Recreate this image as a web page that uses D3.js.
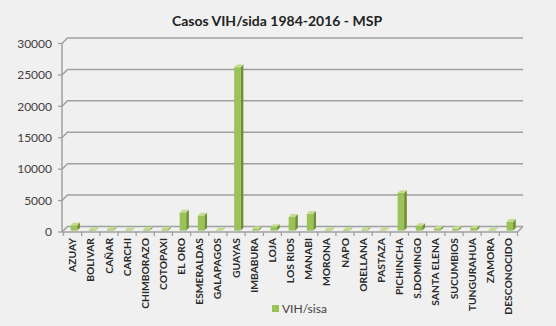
<!DOCTYPE html>
<html><head><meta charset="utf-8">
<script src="https://cdn.jsdelivr.net/npm/d3@7"></script>
<style>html,body{margin:0;padding:0;background:#f0f0f0;}svg{display:block;}</style>
</head><body>
<script>
const categories = ["AZUAY","BOLIVAR","CAÑAR","CARCHI","CHIMBORAZO","COTOPAXI","EL ORO","ESMERALDAS","GALAPAGOS","GUAYAS","IMBABURA","LOJA","LOS RIOS","MANABI","MORONA","NAPO","ORELLANA","PASTAZA","PICHINCHA","S.DOMINGO","SANTA ELENA","SUCUMBIOS","TUNGURAHUA","ZAMORA","DESCONOCIDO"];
const values = [850,100,200,80,200,200,2900,2400,50,26000,250,600,2200,2700,100,100,150,50,6000,750,350,300,400,80,1400];
const yTicks = [0,5000,10000,15000,20000,25000,30000];
const seriesName = "VIH/sisa";
const title = "Casos VIH/sida 1984-2016 - MSP";

const W=556,H=326;
const svg=d3.select("body").append("svg").attr("width",W).attr("height",H);
svg.append("rect").attr("width",W).attr("height",H).attr("fill","#f0f0f0");

const x=d3.scaleBand().domain(categories).range([63.5,517.5]);
const y=d3.scaleLinear().domain([0,30000]).range([232,43.5]);
const D=5.5; // depth offset
const gridC="#a0a0a0";
const x0=62, xR=x.range()[1];

// gridlines on back wall
svg.append("g").selectAll("path").data(yTicks).join("path")
  .attr("d",v=>`M${x0},${y(v)}L${x0+D},${y(v)-D}L${xR+D},${y(v)-D}`)
  .attr("fill","none").attr("stroke",gridC).attr("stroke-width",1.5);
// floor front edge
svg.append("path").attr("d",`M${x0},${y(0)}L${xR},${y(0)}L${xR+D},${y(0)-D}`)
  .attr("fill","none").attr("stroke",gridC).attr("stroke-width",1.5);
// vertical axis
svg.append("path").attr("d",`M${x0},${y(0)}L${x0},${y(30000)}`).attr("stroke",gridC).attr("stroke-width",1.5);
// y ticks
svg.append("g").selectAll("line").data(yTicks).join("line")
  .attr("x1",x0-4).attr("x2",x0).attr("y1",v=>y(v)).attr("y2",v=>y(v))
  .attr("stroke",gridC).attr("stroke-width",1.3);
svg.append("g").selectAll("text").data(yTicks).join("text")
  .attr("x",52).attr("y",v=>y(v)).attr("dy","0.36em").attr("text-anchor","end")
  .attr("font-family","Lato").attr("font-size",12).attr("fill","#404040").text(v=>v);
// x ticks
const bounds=categories.map(c=>x(c)).concat([xR]);
svg.append("g").selectAll("line").data(bounds).join("line")
  .attr("x1",d=>d).attr("x2",d=>d).attr("y1",y(0)).attr("y2",y(0)+4)
  .attr("stroke",gridC).attr("stroke-width",1.3);

// bars
const f=1.4,b=4.1,w=6.5;
const bars=svg.append("g").selectAll("g").data(categories.map((c,i)=>({c,v:values[i]}))).join("g");
bars.each(function(d){
  const g=d3.select(this);
  const cx=x(d.c)+x.bandwidth()/2;
  const l=cx-w/2+f, r=l+w, t=y(d.v)-f, bt=y(0)-f, e=b-f;
  g.append("path").attr("d",`M${r},${t}L${r+e},${t-e}L${r+e},${bt-e}L${r},${bt}Z`).attr("fill","#6f8f34");
  g.append("rect").attr("x",l).attr("y",t).attr("width",w).attr("height",Math.max(0,bt-t)).attr("fill","#9bc257");
  g.append("path").attr("d",`M${l},${t}L${l+e},${t-e}L${r+e},${t-e}L${r},${t}Z`).attr("fill","#c3dc8e");
});

// x labels
svg.append("g").selectAll("text").data(categories).join("text")
  .attr("transform",c=>`translate(${x(c)+x.bandwidth()/2},238) rotate(-90)`)
  .attr("dy","0.35em").attr("text-anchor","end")
  .attr("font-family","Lato").attr("font-weight","bold").attr("font-size",10.3).attr("fill","#2a2a2a")
  .text(c=>c);

// title
svg.append("text").attr("x",277).attr("y",26).attr("text-anchor","middle")
  .attr("font-family","Lato").attr("font-weight","bold").attr("font-size",14).attr("fill","#222").text(title);

// legend
svg.append("rect").attr("x",272).attr("y",305).attr("width",7).attr("height",7).attr("fill","#9bc257");
svg.append("text").attr("x",282).attr("y",313).attr("font-family","Lato").attr("font-size",12).attr("fill","#404040").text(seriesName);
</script>
</body></html>
